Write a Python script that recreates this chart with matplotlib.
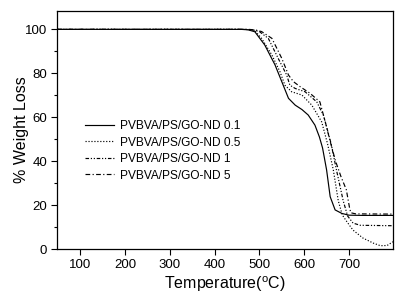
import matplotlib
matplotlib.use("Agg")
import matplotlib.pyplot as plt
from matplotlib.ticker import MultipleLocator

plt.rcParams['font.family'] = ['Liberation Sans', 'DejaVu Sans']

labels = ["PVBVA/PS/GO-ND 0.1", "PVBVA/PS/GO-ND 0.5",
          "PVBVA/PS/GO-ND 1", "PVBVA/PS/GO-ND 5"]

t_01 = [50, 460, 475, 490, 512, 535, 550, 565, 580, 595, 609, 624, 634, 641, 650, 658, 669, 684, 700, 730, 798]
w_01 = [100, 100, 99.8, 98.9, 92.9, 83.8, 76.2, 68.6, 65.5, 63.5, 61, 56.4, 51, 46, 36, 23.8, 17.8, 16.2, 15.4, 15.3, 15.3]

t_05 = [50, 465, 480, 490, 505, 528, 546, 557, 572, 595, 617, 639, 652, 665, 676, 685, 695, 709, 731, 754, 770, 785, 798]
w_05 = [100, 100, 99.8, 99.3, 95.9, 88.3, 80.7, 74.6, 71.6, 70.1, 65.5, 57.9, 48, 36, 22, 15.5, 12.5, 8.6, 5, 2.7, 1.5, 1.6, 3.3]

t_1 = [50, 470, 485, 500, 520, 542, 561, 568, 580, 602, 628, 643, 660, 672, 687, 697, 709, 725, 798]
w_1 = [100, 100, 99.8, 99, 95.9, 86.8, 79.2, 74.6, 73.1, 71.6, 67, 60.9, 48, 36, 22, 15, 11.8, 10.8, 10.6]

t_5 = [50, 475, 490, 505, 528, 550, 565, 576, 591, 613, 635, 647, 658, 670, 682, 694, 701, 704, 715, 798]
w_5 = [100, 100, 99.8, 99, 95.9, 86.8, 79.2, 76.2, 73.9, 70.9, 67, 57.9, 49, 40, 33, 27, 19, 16.5, 16, 15.9]

styles = ['-', (0, (1, 1.5)), (0, (3, 1.5, 1, 1.5, 1, 1.5)), (0, (4, 2, 1, 2))]
series = [(t_01, w_01), (t_05, w_05), (t_1, w_1), (t_5, w_5)]

fig = plt.figure(figsize=(3.98, 2.99), dpi=100)
ax = fig.add_axes([0.1432, 0.1672, 0.8435, 0.797])

for (t, w), ls, lab in zip(series, styles, labels):
    ax.plot(t, w, color='black', lw=0.85, linestyle=ls, label=lab)

ax.set_xlim(48.5, 797.5)
ax.set_ylim(0, 108.5)
ax.xaxis.set_major_locator(MultipleLocator(100))
ax.yaxis.set_major_locator(MultipleLocator(20))
ax.yaxis.set_minor_locator(MultipleLocator(10))
ax.tick_params(axis='both', which='major', direction='out', length=4, width=0.8, labelsize=9.5, pad=3)
ax.tick_params(axis='y', which='minor', direction='out', length=2.5, width=0.8)
for s in ax.spines.values():
    s.set_linewidth(0.9)

ax.set_xlabel('Temperature($^{\\mathregular{o}}$C)', fontsize=11.5, labelpad=3)
ax.set_ylabel('% Weight Loss', fontsize=11.5, labelpad=-3)

leg = ax.legend(loc='upper left', bbox_to_anchor=(85/398, 1 - 120/299), bbox_transform=fig.transFigure,
                frameon=False, fontsize=8.6, handlelength=2.4, handletextpad=0.5,
                labelspacing=0.38, borderpad=0, borderaxespad=0)

fig.savefig('out.png', dpi=100)
